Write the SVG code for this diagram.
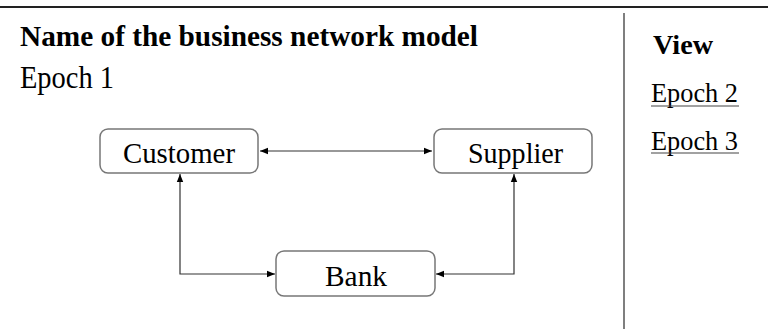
<svg xmlns="http://www.w3.org/2000/svg" width="768" height="329" viewBox="0 0 768 329">
<style>
.t{font-family:"Liberation Serif","Times New Roman",serif;fill:#000}
.b{font-weight:bold}
.box{fill:#fff;stroke:#777;stroke-width:1.5}
.c{fill:none;stroke:#333;stroke-width:1.2}
</style>
<defs>
<marker id="ah" viewBox="0 0 10 10" refX="10" refY="5" markerWidth="9" markerHeight="8" markerUnits="userSpaceOnUse" orient="auto-start-reverse">
<path d="M0,1 L10,5 L0,9 z" fill="#000"/>
</marker>
</defs>
<rect width="768" height="329" fill="#fff"/>
<line x1="0" y1="7" x2="768" y2="7" stroke="#222" stroke-width="2"/>
<line x1="624" y1="13" x2="624" y2="329" stroke="#555" stroke-width="1.5"/>
<text class="t b" x="20" y="46" font-size="30" textLength="458" lengthAdjust="spacingAndGlyphs">Name of the business network model</text>
<text class="t" x="20" y="88" font-size="31" textLength="94" lengthAdjust="spacingAndGlyphs">Epoch 1</text>
<text class="t b" x="653" y="54" font-size="28" textLength="60" lengthAdjust="spacingAndGlyphs">View</text>
<text class="t" x="651" y="102" font-size="27" textLength="87" lengthAdjust="spacingAndGlyphs">Epoch 2</text>
<line x1="651" y1="106" x2="739" y2="106" stroke="#444" stroke-width="1.2"/>
<text class="t" x="651" y="150" font-size="27" textLength="87" lengthAdjust="spacingAndGlyphs">Epoch 3</text>
<line x1="651" y1="153" x2="739" y2="153" stroke="#444" stroke-width="1.2"/>
<g id="connectors">
<line class="c" x1="260" y1="151" x2="432" y2="151" marker-start="url(#ah)" marker-end="url(#ah)"/>
<polyline class="c" points="180,174 180,274 275,274" marker-start="url(#ah)" marker-end="url(#ah)"/>
<polyline class="c" points="514,174 514,274 436,274" marker-start="url(#ah)" marker-end="url(#ah)"/>
</g>
<g id="customer">
<rect class="box" x="100" y="129" width="158" height="44" rx="8"/>
<text class="t" x="179" y="163" font-size="30" text-anchor="middle" textLength="112" lengthAdjust="spacingAndGlyphs">Customer</text>
</g>
<g id="supplier">
<rect class="box" x="434" y="129" width="158" height="44" rx="8"/>
<text class="t" x="515.5" y="163" font-size="30" text-anchor="middle" textLength="95" lengthAdjust="spacingAndGlyphs">Supplier</text>
</g>
<g id="bank">
<rect class="box" x="276" y="251" width="159" height="45" rx="8"/>
<text class="t" x="356" y="286" font-size="30" text-anchor="middle" textLength="62" lengthAdjust="spacingAndGlyphs">Bank</text>
</g>
</svg>
